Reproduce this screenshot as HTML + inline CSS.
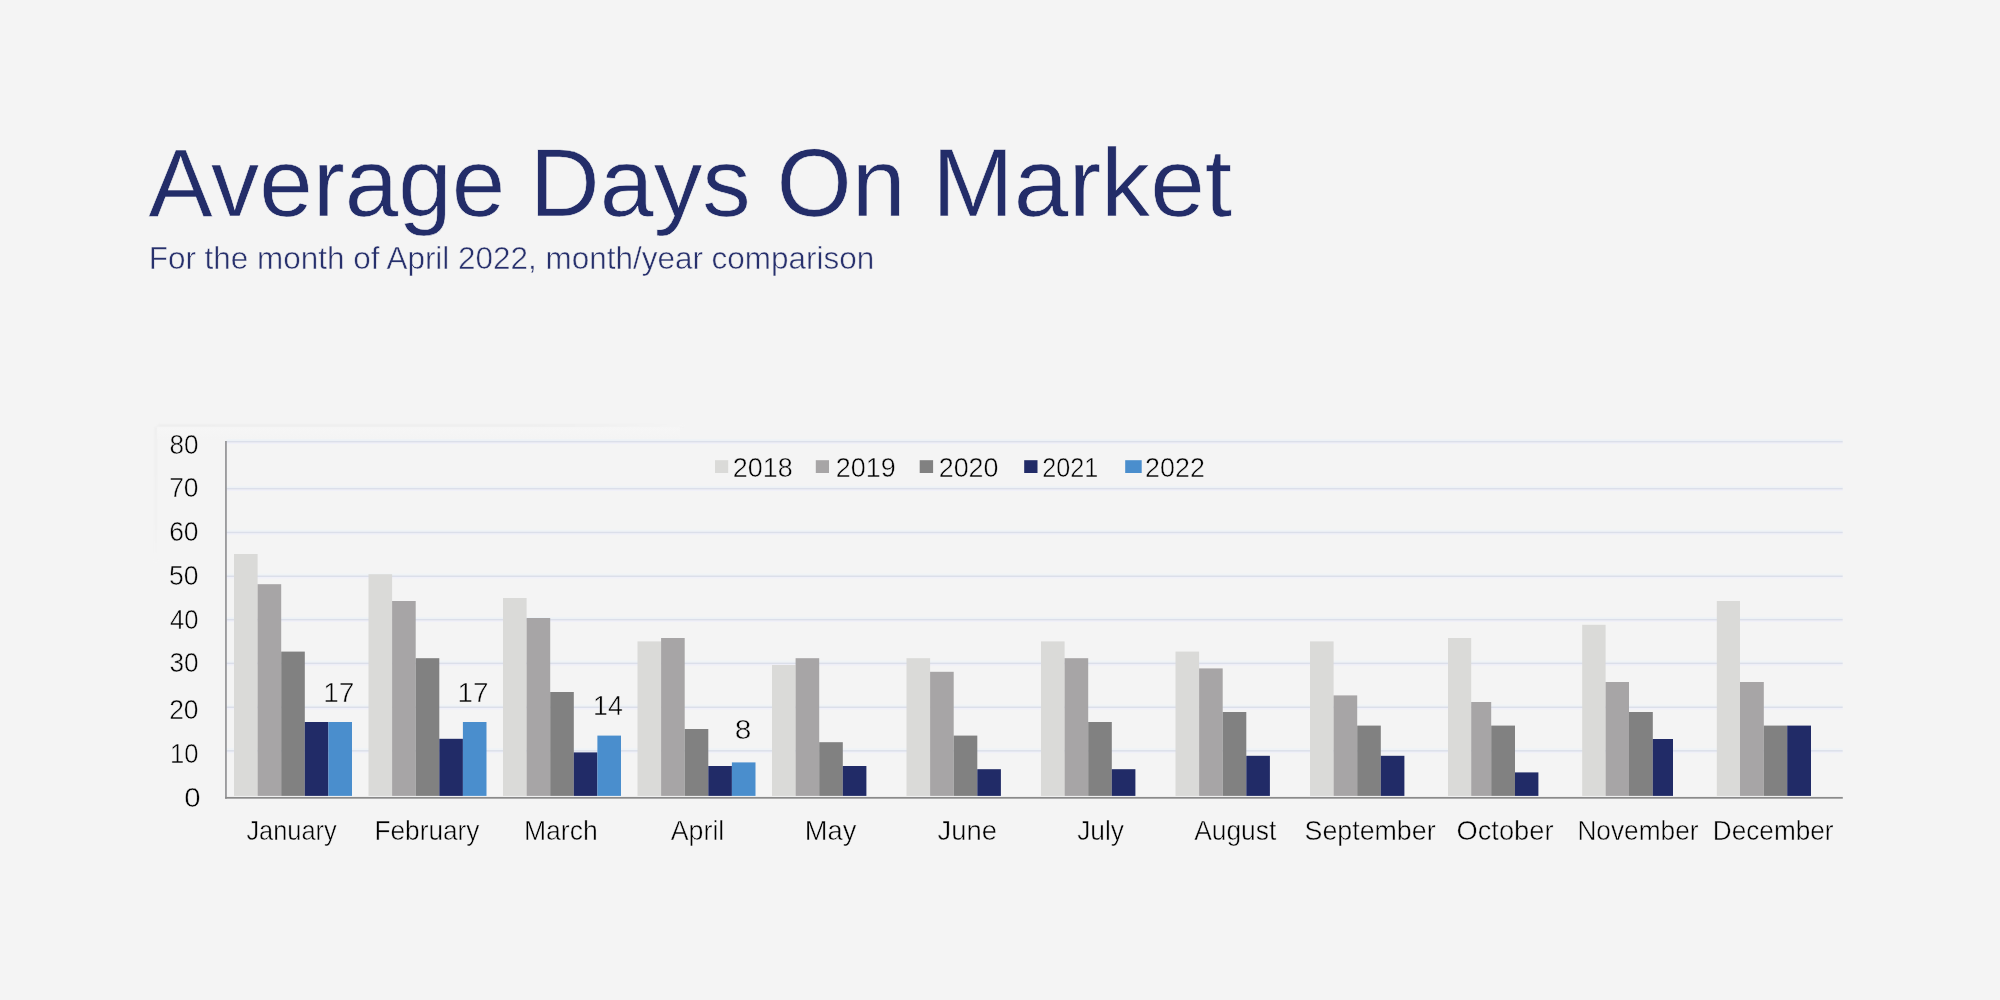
<!DOCTYPE html>
<html><head><meta charset="utf-8"><title>Average Days On Market</title>
<style>
html,body{margin:0;padding:0;background:#f4f4f4;}
body{width:2000px;height:1000px;overflow:hidden;font-family:"Liberation Sans",sans-serif;}
svg{display:block;position:absolute;left:0;top:0;}
text{font-family:"Liberation Sans",sans-serif;}
.t{fill:#232d69;stroke:#f4f4f4;stroke-width:0.6px;}
.s{fill:#27306c;stroke:#f4f4f4;stroke-width:0.5px;}
.k{fill:#000;stroke:#f4f4f4;stroke-width:0.5px;}
</style></head><body>
<svg width="2000" height="1000" viewBox="0 0 2000 1000">
<defs><filter id="nf" x="0" y="0" width="2000" height="1000" filterUnits="userSpaceOnUse"><feOffset dx="0" dy="0"/></filter><filter id="bl" x="100" y="380" width="700" height="240" filterUnits="userSpaceOnUse"><feGaussianBlur stdDeviation="0.9"/></filter><linearGradient id="pv" x1="0" y1="0" x2="0" y2="1"><stop offset="0" stop-color="#f6f6f6"/><stop offset="1" stop-color="#f4f4f4"/></linearGradient><linearGradient id="fh" x1="0" y1="0" x2="1" y2="0"><stop offset="0" stop-color="#e8e8e8"/><stop offset="0.75" stop-color="#eaeaea"/><stop offset="1" stop-color="#f4f4f4"/></linearGradient><linearGradient id="fv" x1="0" y1="0" x2="0" y2="1"><stop offset="0" stop-color="#eaeaea"/><stop offset="0.7" stop-color="#ededed"/><stop offset="1" stop-color="#f4f4f4"/></linearGradient></defs>
<rect x="0" y="0" width="2000" height="1000" fill="#f4f4f4"/>
<g filter="url(#bl)" opacity="0.8"><rect x="158" y="424.6" width="525" height="2" fill="url(#fh)"/><rect x="154.8" y="427" width="2" height="134" fill="url(#fv)"/></g>
<rect x="157.2" y="427.2" width="523" height="12" fill="url(#pv)"/>
<rect x="226.5" y="438.95" width="1616.2" height="2.0" fill="#eff3f6"/>
<rect x="226.5" y="442.35" width="1616.2" height="1.6" fill="#f0f0f8"/>
<rect x="226.5" y="440.90" width="1616.2" height="1.5" fill="#dbdfea"/>
<rect x="226.5" y="485.95" width="1616.2" height="2.0" fill="#eff3f6"/>
<rect x="226.5" y="489.35" width="1616.2" height="1.6" fill="#f0f0f8"/>
<rect x="226.5" y="487.90" width="1616.2" height="1.5" fill="#dbdfea"/>
<rect x="226.5" y="529.75" width="1616.2" height="2.0" fill="#eff3f6"/>
<rect x="226.5" y="533.15" width="1616.2" height="1.6" fill="#f0f0f8"/>
<rect x="226.5" y="531.70" width="1616.2" height="1.5" fill="#dbdfea"/>
<rect x="226.5" y="573.55" width="1616.2" height="2.0" fill="#eff3f6"/>
<rect x="226.5" y="576.95" width="1616.2" height="1.6" fill="#f0f0f8"/>
<rect x="226.5" y="575.50" width="1616.2" height="1.5" fill="#dbdfea"/>
<rect x="226.5" y="616.95" width="1616.2" height="2.0" fill="#eff3f6"/>
<rect x="226.5" y="620.35" width="1616.2" height="1.6" fill="#f0f0f8"/>
<rect x="226.5" y="618.90" width="1616.2" height="1.5" fill="#dbdfea"/>
<rect x="226.5" y="660.65" width="1616.2" height="2.0" fill="#eff3f6"/>
<rect x="226.5" y="664.05" width="1616.2" height="1.6" fill="#f0f0f8"/>
<rect x="226.5" y="662.60" width="1616.2" height="1.5" fill="#dbdfea"/>
<rect x="226.5" y="704.55" width="1616.2" height="2.0" fill="#eff3f6"/>
<rect x="226.5" y="707.95" width="1616.2" height="1.6" fill="#f0f0f8"/>
<rect x="226.5" y="706.50" width="1616.2" height="1.5" fill="#dbdfea"/>
<rect x="226.5" y="748.15" width="1616.2" height="2.0" fill="#eff3f6"/>
<rect x="226.5" y="751.55" width="1616.2" height="1.6" fill="#f0f0f8"/>
<rect x="226.5" y="750.10" width="1616.2" height="1.5" fill="#dbdfea"/>
<rect x="234.00" y="554.00" width="23.60" height="241.90" fill="#dadad8"/>
<rect x="257.60" y="584.20" width="23.60" height="211.70" fill="#a7a5a6"/>
<rect x="281.20" y="651.60" width="23.60" height="144.30" fill="#818181"/>
<rect x="304.80" y="722.00" width="23.60" height="73.90" fill="#212b67"/>
<rect x="328.40" y="722.00" width="23.60" height="73.90" fill="#4a8ecd"/>
<rect x="368.50" y="574.20" width="23.60" height="221.70" fill="#dadad8"/>
<rect x="392.10" y="601.00" width="23.60" height="194.90" fill="#a7a5a6"/>
<rect x="415.70" y="658.20" width="23.60" height="137.70" fill="#818181"/>
<rect x="439.30" y="738.80" width="23.60" height="57.10" fill="#212b67"/>
<rect x="462.90" y="722.00" width="23.60" height="73.90" fill="#4a8ecd"/>
<rect x="503.00" y="598.00" width="23.60" height="197.90" fill="#dadad8"/>
<rect x="526.60" y="618.00" width="23.60" height="177.90" fill="#a7a5a6"/>
<rect x="550.20" y="692.00" width="23.60" height="103.90" fill="#818181"/>
<rect x="573.80" y="752.40" width="23.60" height="43.50" fill="#212b67"/>
<rect x="597.40" y="735.60" width="23.60" height="60.30" fill="#4a8ecd"/>
<rect x="637.50" y="641.40" width="23.60" height="154.50" fill="#dadad8"/>
<rect x="661.10" y="638.00" width="23.60" height="157.90" fill="#a7a5a6"/>
<rect x="684.70" y="729.00" width="23.60" height="66.90" fill="#818181"/>
<rect x="708.30" y="766.00" width="23.60" height="29.90" fill="#212b67"/>
<rect x="731.90" y="762.40" width="23.60" height="33.50" fill="#4a8ecd"/>
<rect x="772.00" y="665.00" width="23.60" height="130.90" fill="#dadad8"/>
<rect x="795.60" y="658.20" width="23.60" height="137.70" fill="#a7a5a6"/>
<rect x="819.20" y="742.20" width="23.60" height="53.70" fill="#818181"/>
<rect x="842.80" y="766.00" width="23.60" height="29.90" fill="#212b67"/>
<rect x="906.50" y="658.20" width="23.60" height="137.70" fill="#dadad8"/>
<rect x="930.10" y="671.80" width="23.60" height="124.10" fill="#a7a5a6"/>
<rect x="953.70" y="735.60" width="23.60" height="60.30" fill="#818181"/>
<rect x="977.30" y="769.20" width="23.60" height="26.70" fill="#212b67"/>
<rect x="1041.00" y="641.40" width="23.60" height="154.50" fill="#dadad8"/>
<rect x="1064.60" y="658.20" width="23.60" height="137.70" fill="#a7a5a6"/>
<rect x="1088.20" y="722.00" width="23.60" height="73.90" fill="#818181"/>
<rect x="1111.80" y="769.20" width="23.60" height="26.70" fill="#212b67"/>
<rect x="1175.50" y="651.60" width="23.60" height="144.30" fill="#dadad8"/>
<rect x="1199.10" y="668.40" width="23.60" height="127.50" fill="#a7a5a6"/>
<rect x="1222.70" y="712.00" width="23.60" height="83.90" fill="#818181"/>
<rect x="1246.30" y="755.80" width="23.60" height="40.10" fill="#212b67"/>
<rect x="1310.00" y="641.40" width="23.60" height="154.50" fill="#dadad8"/>
<rect x="1333.60" y="695.40" width="23.60" height="100.50" fill="#a7a5a6"/>
<rect x="1357.20" y="725.60" width="23.60" height="70.30" fill="#818181"/>
<rect x="1380.80" y="755.80" width="23.60" height="40.10" fill="#212b67"/>
<rect x="1448.00" y="638.00" width="23.20" height="157.90" fill="#dadad8"/>
<rect x="1471.20" y="702.00" width="20.00" height="93.90" fill="#a7a5a6"/>
<rect x="1491.20" y="725.60" width="23.80" height="70.30" fill="#818181"/>
<rect x="1515.00" y="772.40" width="23.40" height="23.50" fill="#212b67"/>
<rect x="1582.20" y="624.80" width="23.40" height="171.10" fill="#dadad8"/>
<rect x="1605.60" y="682.00" width="23.40" height="113.90" fill="#a7a5a6"/>
<rect x="1629.00" y="712.00" width="23.80" height="83.90" fill="#818181"/>
<rect x="1652.80" y="739.00" width="20.20" height="56.90" fill="#212b67"/>
<rect x="1716.80" y="601.00" width="23.20" height="194.90" fill="#dadad8"/>
<rect x="1740.00" y="682.00" width="23.80" height="113.90" fill="#a7a5a6"/>
<rect x="1763.80" y="725.60" width="23.40" height="70.30" fill="#818181"/>
<rect x="1787.20" y="725.60" width="23.80" height="70.30" fill="#212b67"/>
<rect x="225.2" y="441.0" width="1.5" height="357.7" fill="#858588"/>
<rect x="225.2" y="796.95" width="1617.6" height="1.75" fill="#8a8a8a"/>
<rect x="715.00" y="460.2" width="13.20" height="12.8" fill="#dadad8"/>
<rect x="815.80" y="460.2" width="13.20" height="12.8" fill="#a7a5a6"/>
<rect x="919.70" y="460.2" width="13.40" height="12.8" fill="#818181"/>
<rect x="1024.20" y="460.2" width="13.30" height="12.8" fill="#212b67"/>
<rect x="1125.20" y="460.2" width="16.50" height="12.8" fill="#4a8ecd"/>
<g filter="url(#nf)">
<text id="w1" class="t" x="148.63" y="215.60" font-size="96.00" textLength="356.53" lengthAdjust="spacingAndGlyphs">Average</text>
<text id="w2" class="t" x="529.81" y="215.60" font-size="96.00" textLength="220.91" lengthAdjust="spacingAndGlyphs">Days</text>
<text id="w3" class="t" x="776.41" y="215.60" font-size="96.00" textLength="129.16" lengthAdjust="spacingAndGlyphs">On</text>
<text id="w4" class="t" x="932.11" y="215.60" font-size="96.00" textLength="299.93" lengthAdjust="spacingAndGlyphs">Market</text>
<text id="sub" class="s" x="148.69" y="269.40" font-size="30.50" textLength="725.47" lengthAdjust="spacingAndGlyphs">For the month of April 2022, month/year comparison</text>
<text id="y80" class="k" x="169.38" y="453.70" font-size="27.60" textLength="29.05" lengthAdjust="spacingAndGlyphs">80</text>
<text id="y70" class="k" x="169.15" y="497.40" font-size="27.60" textLength="29.43" lengthAdjust="spacingAndGlyphs">70</text>
<text id="y60" class="k" x="169.14" y="541.30" font-size="27.60" textLength="29.42" lengthAdjust="spacingAndGlyphs">60</text>
<text id="y50" class="k" x="169.09" y="585.30" font-size="27.60" textLength="29.48" lengthAdjust="spacingAndGlyphs">50</text>
<text id="y40" class="k" x="169.99" y="628.50" font-size="27.60" textLength="28.45" lengthAdjust="spacingAndGlyphs">40</text>
<text id="y30" class="k" x="169.38" y="672.30" font-size="27.60" textLength="29.07" lengthAdjust="spacingAndGlyphs">30</text>
<text id="y20" class="k" x="169.14" y="719.20" font-size="27.60" textLength="29.40" lengthAdjust="spacingAndGlyphs">20</text>
<text id="y10" class="k" x="170.05" y="763.00" font-size="27.60" textLength="28.49" lengthAdjust="spacingAndGlyphs">10</text>
<text id="y0" class="k" x="184.36" y="806.70" font-size="27.60" textLength="16.35" lengthAdjust="spacingAndGlyphs">0</text>
<text id="xJanuary" class="k" x="246.40" y="840.00" font-size="27.60" textLength="90.31" lengthAdjust="spacingAndGlyphs">January</text>
<text id="xFebruary" class="k" x="374.43" y="840.00" font-size="27.60" textLength="105.05" lengthAdjust="spacingAndGlyphs">February</text>
<text id="xMarch" class="k" x="523.90" y="840.00" font-size="27.60" textLength="73.84" lengthAdjust="spacingAndGlyphs">March</text>
<text id="xApril" class="k" x="670.76" y="840.00" font-size="27.60" textLength="53.54" lengthAdjust="spacingAndGlyphs">April</text>
<text id="xMay" class="k" x="804.84" y="840.00" font-size="27.60" textLength="51.51" lengthAdjust="spacingAndGlyphs">May</text>
<text id="xJune" class="k" x="937.43" y="840.00" font-size="27.60" textLength="59.50" lengthAdjust="spacingAndGlyphs">June</text>
<text id="xJuly" class="k" x="1077.19" y="840.00" font-size="27.60" textLength="46.86" lengthAdjust="spacingAndGlyphs">July</text>
<text id="xAugust" class="k" x="1194.15" y="840.00" font-size="27.60" textLength="82.21" lengthAdjust="spacingAndGlyphs">August</text>
<text id="xSeptember" class="k" x="1304.54" y="840.00" font-size="27.60" textLength="131.07" lengthAdjust="spacingAndGlyphs">September</text>
<text id="xOctober" class="k" x="1456.57" y="840.00" font-size="27.60" textLength="96.90" lengthAdjust="spacingAndGlyphs">October</text>
<text id="xNovember" class="k" x="1577.41" y="840.00" font-size="27.60" textLength="121.09" lengthAdjust="spacingAndGlyphs">November</text>
<text id="xDecember" class="k" x="1712.84" y="840.00" font-size="27.60" textLength="120.68" lengthAdjust="spacingAndGlyphs">December</text>
<text id="d1" class="k" x="323.20" y="702.00" font-size="27.40" textLength="31.19" lengthAdjust="spacingAndGlyphs">17</text>
<text id="d2" class="k" x="457.56" y="702.00" font-size="27.40" textLength="31.00" lengthAdjust="spacingAndGlyphs">17</text>
<text id="d3" class="k" x="593.04" y="715.20" font-size="27.40" textLength="29.76" lengthAdjust="spacingAndGlyphs">14</text>
<text id="d4" class="k" x="734.69" y="738.80" font-size="27.40" textLength="16.60" lengthAdjust="spacingAndGlyphs">8</text>
<text id="l2018" class="k" x="732.76" y="476.80" font-size="27.60" textLength="59.94" lengthAdjust="spacingAndGlyphs">2018</text>
<text id="l2019" class="k" x="835.72" y="476.80" font-size="27.60" textLength="60.03" lengthAdjust="spacingAndGlyphs">2019</text>
<text id="l2020" class="k" x="938.68" y="476.80" font-size="27.60" textLength="59.91" lengthAdjust="spacingAndGlyphs">2020</text>
<text id="l2021" class="k" x="1042.13" y="476.80" font-size="27.60" textLength="56.05" lengthAdjust="spacingAndGlyphs">2021</text>
<text id="l2022" class="k" x="1145.11" y="476.80" font-size="27.60" textLength="59.71" lengthAdjust="spacingAndGlyphs">2022</text>
</g>
</svg></body></html>
